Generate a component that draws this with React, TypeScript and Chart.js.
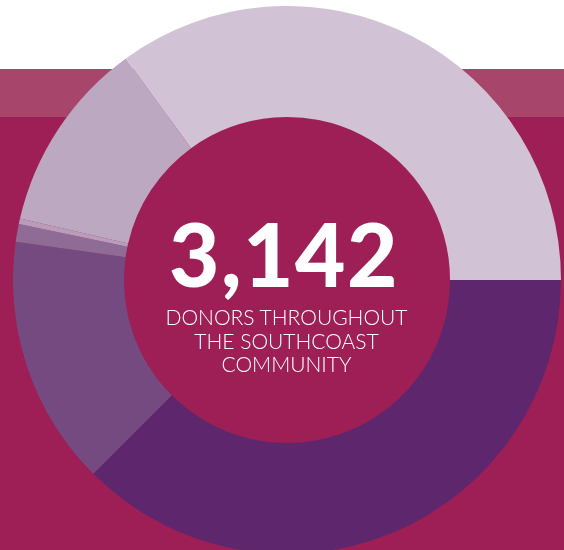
import React, { useEffect, useRef } from "react";
import { Chart, registerables } from "chart.js";

Chart.register(...registerables);

const categories = ["Group A", "Group B", "Group C", "Group D", "Group E", "Group F"];
const donorCounts = [1178, 463, 33, 10, 358, 1100];
const sliceColors = ["#5E276D", "#754A80", "#8F6C95", "#B89CBB", "#BDA8C2", "#D1C3D5"];
const totalLabel = "3,142";
const subtitleLines = ["DONORS THROUGHOUT", "THE SOUTHCOAST", "COMMUNITY"];

export default function App() {
  const ref = useRef<HTMLCanvasElement | null>(null);

  useEffect(() => {
    if (!ref.current) return;
    const chart = new Chart(ref.current, {
      type: "doughnut",
      data: {
        labels: categories,
        datasets: [
          {
            data: donorCounts,
            backgroundColor: sliceColors,
            borderWidth: 0,
            hoverBorderWidth: 0,
            hoverOffset: 0,
            offset: 0,
          },
        ],
      },
      options: {
        responsive: false,
        animation: false,
        rotation: 90,
        cutout: "59.5%",
        layout: { padding: 0 },
        plugins: {
          legend: { display: false },
          tooltip: { enabled: false },
        },
        events: [],
      },
    });
    return () => chart.destroy();
  }, []);

  return (
    <div
      style={{
        position: "absolute",
        left: 0,
        top: 0,
        width: 564,
        height: 550,
        overflow: "hidden",
        background:
          "linear-gradient(to bottom, #FFFFFF 0px, #FFFFFF 69px, #A8456A 69px, #A8456A 117px, #9E1F55 117px, #9E1F55 100%)",
      }}
    >
      <canvas
        ref={ref}
        width={548}
        height={548}
        style={{ position: "absolute", left: 13, top: 6, width: 548, height: 548 }}
      />
      <div
        style={{
          position: "absolute",
          left: 0,
          width: 568,
          top: 204,
          textAlign: "center",
          color: "#FFFFFF",
          fontFamily: "Lato, 'Open Sans', sans-serif",
          fontWeight: 900,
          fontSize: 87,
          lineHeight: "100px",
          letterSpacing: "1.5px",
        }}
      >
        {totalLabel}
      </div>
      <div
        style={{
          position: "absolute",
          left: 0,
          width: 573,
          top: 305,
          textAlign: "center",
          color: "#FFFFFF",
          fontFamily: "Lato, 'Open Sans', sans-serif",
          fontWeight: 300,
          fontSize: 21,
          lineHeight: "23.5px",
        }}
      >
        {subtitleLines.map((l) => (
          <div key={l}>{l}</div>
        ))}
      </div>
    </div>
  );
}
